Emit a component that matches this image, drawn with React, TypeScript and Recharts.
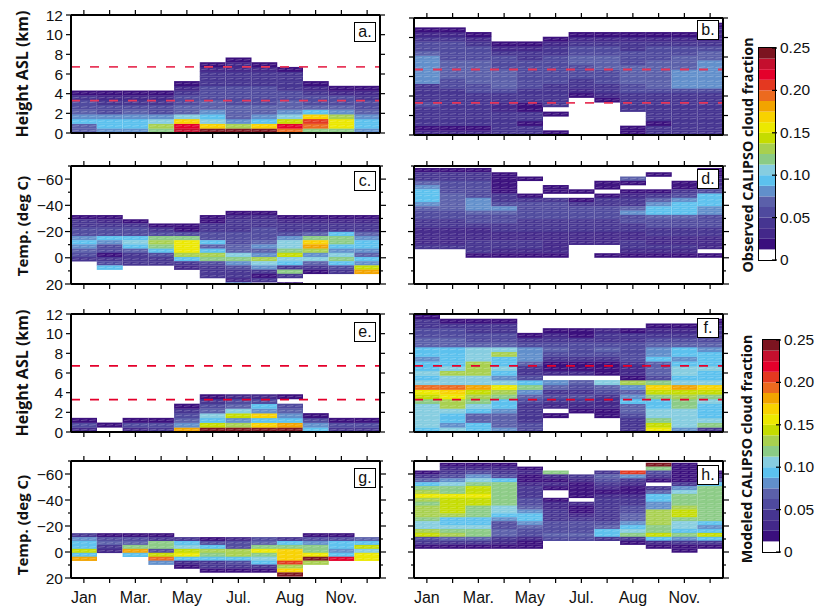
import { Bar, BarChart, ReferenceLine, XAxis, YAxis } from "recharts"

// cloud fraction is stored as colour bar class, one class = 0.0125
const bandStep = 0.0125
const bandColors = [
	"#ffffff", "#3a0f7d", "#43288a", "#463591", "#4f4a9e", "#5b60aa", "#618fcb", "#5cc1ee", "#86cde0", "#8bcb85",
	"#a8d04f", "#c5dc00", "#ece800", "#f8d200", "#f2a400", "#ec6a1f", "#e43820", "#e4002b", "#c40f2e", "#7c1420"
]
const monthLabels = ["Jan", "", "Mar.", "", "May", "", "Jul.", "", "Aug", "", "Nov.", ""]
const heightTicks = [0, 2, 4, 6, 8, 10, 12]
const tempTicks = [-70, -60, -50, -40, -30, -20, -10, 0, 10, 20]
const tempLabelled = [-60, -40, -20, 0, 20]
const barTicks = [0, 0.05, 0.1, 0.15, 0.2, 0.25]
const layerHeights = [6.72, 3.3]

// height panels: each month listed from the ground up, rows of 0.48 km
const panelA = [
	[5, 5, 7, 6, 5, 4, 4, 3, 1],
	[6, 7, 7, 6, 4, 4, 3, 2, 1],
	[6, 7, 7, 6, 5, 4, 3, 2, 1],
	[9, 10, 8, 6, 4, 4, 3, 2, 1],
	[18, 17, 13, 8, 5, 5, 4, 4, 3, 2, 1],
	[19, 13, 8, 7, 6, 5, 5, 4, 4, 4, 3, 3, 3, 2, 1],
	[19, 10, 6, 5, 5, 5, 4, 4, 4, 4, 3, 3, 3, 2, 2, 1],
	[19, 13, 7, 6, 5, 5, 4, 4, 4, 4, 3, 3, 3, 2, 1],
	[15, 17, 11, 8, 6, 5, 5, 4, 4, 3, 3, 3, 3, 1],
	[9, 15, 16, 13, 7, 5, 4, 4, 3, 2, 1],
	[9, 12, 12, 10, 6, 5, 4, 4, 2, 1],
	[6, 7, 7, 6, 5, 4, 4, 3, 2, 1]
]
const panelB = [
	[2, 1, 3, 3, 3, 3, 4, 3, 3, 3, 3, 6, 6, 6, 6, 6, 6, 5, 4, 4, 3, 2, 1],
	[2, 1, 3, 3, 3, 3, 3, 3, 3, 3, 4, 4, 5, 5, 5, 5, 4, 4, 4, 4, 3, 2, 1],
	[2, 1, 3, 3, 3, 3, 3, 3, 3, 4, 4, 5, 5, 5, 5, 5, 4, 4, 4, 3, 2, 1],
	[3, 3, 3, 3, 3, 2, 2, 3, 3, 4, 5, 5, 5, 5, 4, 4, 4, 3, 2, 1],
	[3, 3, 1, 3, 3, 1, 1, 3, 3, 3, 4, 4, 4, 4, 4, 4, 3, 3, 2, 1],
	[1, 0, 0, 0, 1, 0, 3, 3, 3, 3, 3, 4, 4, 4, 4, 4, 4, 3, 3, 2, 1],
	[0, 0, 0, 0, 0, 0, 0, 0, 1, 2, 3, 3, 4, 4, 4, 5, 5, 4, 4, 3, 2, 1],
	[0, 0, 0, 0, 0, 0, 0, 1, 2, 3, 3, 4, 4, 4, 5, 5, 5, 4, 4, 3, 2, 1],
	[1, 1, 0, 0, 0, 3, 3, 3, 3, 4, 4, 5, 5, 5, 5, 4, 4, 4, 3, 3, 2, 1],
	[3, 3, 1, 3, 3, 3, 3, 3, 3, 4, 5, 5, 5, 5, 5, 5, 4, 4, 4, 3, 2, 1],
	[3, 3, 3, 3, 3, 3, 3, 3, 3, 4, 6, 6, 6, 6, 5, 5, 5, 4, 4, 3, 2, 1],
	[3, 3, 3, 3, 3, 3, 3, 3, 3, 4, 6, 6, 6, 6, 6, 6, 5, 5, 4, 3, 2, 2, 2, 1]
]
const panelE = [
	[2, 4, 1],
	[0, 1],
	[2, 4, 1],
	[3, 4, 1],
	[14, 6, 5, 4, 3, 1],
	[19, 11, 7, 8, 5, 4, 3, 1],
	[19, 10, 6, 11, 8, 5, 4, 2],
	[19, 13, 7, 13, 6, 7, 4, 2],
	[19, 14, 7, 6, 5, 4, 0, 1],
	[7, 6, 4, 1],
	[3, 4, 1],
	[3, 4, 1]
]
const panelF = [
	[7, 8, 8, 8, 8, 8, 9, 11, 12, 15, 8, 7, 8, 7, 7, 6, 7, 7, 5, 5, 4, 4, 3, 3, 1],
	[8, 6, 7, 7, 8, 10, 10, 12, 13, 15, 8, 8, 10, 8, 7, 7, 7, 7, 5, 5, 4, 4, 3, 1],
	[7, 7, 5, 5, 7, 8, 9, 10, 11, 14, 8, 8, 10, 10, 10, 8, 8, 8, 5, 4, 4, 3, 3, 1],
	[6, 5, 5, 5, 6, 7, 7, 9, 10, 12, 8, 6, 7, 8, 7, 7, 10, 8, 5, 4, 4, 3, 3, 1],
	[4, 4, 3, 3, 3, 3, 4, 5, 6, 9, 7, 4, 3, 3, 5, 6, 6, 6, 4, 3, 1],
	[0, 0, 0, 1, 0, 2, 3, 4, 3, 5, 6, 0, 2, 1, 1, 3, 4, 5, 4, 3, 2, 1],
	[0, 0, 0, 0, 1, 2, 3, 4, 3, 4, 5, 0, 2, 1, 1, 3, 4, 4, 4, 3, 1, 1],
	[0, 0, 0, 1, 1, 2, 2, 3, 4, 5, 8, 0, 1, 1, 1, 3, 4, 5, 4, 3, 3, 2],
	[3, 3, 3, 4, 5, 5, 7, 6, 5, 6, 10, 1, 2, 2, 3, 4, 4, 4, 4, 3, 3, 1],
	[12, 11, 9, 8, 8, 7, 7, 9, 11, 13, 9, 4, 5, 5, 5, 7, 6, 6, 5, 4, 3, 2, 1],
	[6, 8, 8, 8, 8, 9, 9, 10, 11, 14, 8, 7, 8, 8, 7, 6, 7, 7, 5, 4, 3, 2, 1],
	[3, 9, 8, 7, 7, 7, 8, 9, 11, 13, 8, 7, 7, 8, 7, 7, 7, 6, 5, 4, 3, 3, 2, 1]
]

// temperature panels: each month listed from the cold end down
const panelC = [
	[0, 0, 0, 0, 0, 0, 0, 0, 0, 0, 0, 1, 3, 3, 4, 4, 6, 7, 6, 5, 4, 3],
	[0, 0, 0, 0, 0, 0, 0, 0, 0, 0, 0, 1, 2, 3, 4, 4, 7, 6, 4, 4, 1, 3, 4, 7],
	[0, 0, 0, 0, 0, 0, 0, 0, 0, 0, 0, 0, 1, 3, 4, 4, 7, 8, 7, 5, 3, 3, 3],
	[0, 0, 0, 0, 0, 0, 0, 0, 0, 0, 0, 0, 0, 1, 3, 4, 9, 10, 9, 7, 4, 3, 3],
	[0, 0, 0, 0, 0, 0, 0, 0, 0, 0, 0, 0, 0, 1, 1, 4, 9, 12, 12, 12, 10, 7, 3, 2],
	[0, 0, 0, 0, 0, 0, 0, 0, 0, 0, 0, 1, 1, 3, 3, 4, 4, 7, 5, 7, 10, 9, 4, 3, 3, 3],
	[0, 0, 0, 0, 0, 0, 0, 0, 0, 0, 1, 2, 3, 3, 3, 4, 4, 4, 5, 5, 8, 9, 6, 4, 3, 3, 2, 6],
	[0, 0, 0, 0, 0, 0, 0, 0, 0, 0, 1, 2, 3, 3, 4, 4, 4, 5, 6, 5, 6, 10, 8, 6, 3, 1, 3],
	[0, 0, 0, 0, 0, 0, 0, 0, 0, 0, 0, 1, 2, 3, 3, 4, 6, 8, 8, 9, 11, 8, 7, 3, 9, 3, 0, 1],
	[0, 0, 0, 0, 0, 0, 0, 0, 0, 0, 0, 1, 2, 3, 3, 5, 9, 13, 14, 10, 6, 8, 5, 3, 1],
	[0, 0, 0, 0, 0, 0, 0, 0, 0, 0, 0, 1, 2, 3, 3, 7, 9, 9, 7, 6, 8, 9, 7, 4, 3],
	[0, 0, 0, 0, 0, 0, 0, 0, 0, 0, 0, 1, 2, 3, 3, 5, 6, 7, 7, 6, 5, 7, 6, 11, 14]
]
const panelD = [
	[1, 3, 3, 5, 6, 7, 7, 7, 6, 5, 4, 4, 3, 3, 2, 2, 2, 2, 3],
	[1, 3, 3, 4, 4, 4, 5, 5, 5, 5, 4, 4, 3, 3, 2, 2, 2, 2, 3],
	[1, 3, 3, 4, 4, 4, 4, 6, 6, 6, 5, 4, 4, 3, 2, 2, 2, 3, 3, 3, 1],
	[0, 1, 1, 1, 1, 1, 3, 3, 4, 6, 5, 4, 4, 3, 3, 2, 2, 3, 3, 2, 1],
	[0, 0, 1, 0, 0, 0, 1, 3, 4, 4, 4, 4, 3, 3, 3, 2, 2, 3, 3, 2, 1],
	[0, 0, 0, 0, 1, 1, 0, 3, 4, 4, 4, 4, 3, 3, 3, 2, 2, 2, 2, 2, 1],
	[0, 0, 0, 0, 0, 1, 0, 1, 3, 4, 4, 4, 3, 3, 3, 2, 2, 2],
	[0, 0, 0, 1, 1, 0, 1, 3, 3, 4, 4, 4, 3, 3, 3, 2, 2, 2, 0, 0, 1],
	[0, 0, 5, 1, 0, 1, 2, 3, 3, 5, 6, 4, 4, 3, 3, 2, 2, 3, 3, 2, 1],
	[0, 1, 0, 0, 0, 1, 3, 5, 6, 7, 7, 5, 4, 4, 3, 3, 2, 2, 3, 2, 1],
	[0, 0, 0, 1, 1, 3, 4, 6, 7, 7, 7, 5, 4, 4, 3, 3, 2, 2, 3, 2, 1],
	[1, 1, 2, 2, 3, 4, 7, 7, 7, 6, 6, 4, 4, 4, 3, 3, 2, 2, 2, 0, 1]
]
const panelG = [
	[3, 6, 7, 7, 11, 7, 14],
	[1, 4, 5, 3, 2],
	[1, 4, 5, 9, 14, 7],
	[1, 3, 9, 9, 4, 11, 15, 6],
	[0, 3, 7, 8, 11, 12, 7, 2, 1],
	[0, 1, 4, 7, 10, 9, 7, 3, 3, 1],
	[0, 2, 4, 4, 10, 10, 7, 4, 3, 1],
	[0, 4, 5, 9, 12, 9, 8, 7, 3, 1],
	[0, 3, 7, 9, 13, 13, 13, 16, 10, 13, 19],
	[1, 4, 6, 9, 9, 12, 19, 10],
	[1, 4, 7, 7, 6, 7, 17],
	[0, 5, 7, 11, 8, 12, 12]
]
const panelH = [
	[0, 0, 1, 3, 5, 7, 9, 10, 12, 10, 9, 10, 10, 10, 9, 8, 8, 10, 11, 4, 3, 1],
	[1, 2, 3, 4, 6, 8, 9, 9, 12, 11, 11, 11, 11, 10, 7, 7, 8, 9, 10, 5, 3, 1],
	[1, 2, 4, 6, 8, 9, 11, 11, 12, 11, 11, 9, 9, 9, 7, 7, 8, 9, 9, 5, 3, 1],
	[1, 2, 3, 4, 7, 9, 9, 9, 9, 9, 9, 8, 8, 7, 6, 4, 4, 5, 5, 3, 2, 1],
	[0, 1, 2, 1, 1, 2, 3, 3, 3, 4, 4, 5, 6, 7, 7, 6, 5, 4, 4, 2, 1, 1],
	[0, 0, 9, 2, 1, 2, 1, 0, 0, 1, 2, 2, 3, 3, 3, 4, 4, 4, 5, 4],
	[0, 0, 0, 3, 2, 1, 1, 1, 1, 0, 2, 1, 1, 2, 3, 4, 4, 4, 5, 4],
	[0, 0, 3, 5, 4, 3, 2, 1, 2, 3, 3, 3, 3, 3, 3, 4, 5, 7, 7, 3],
	[0, 0, 16, 6, 3, 2, 1, 1, 2, 3, 3, 4, 4, 5, 5, 6, 7, 8, 9, 3, 1],
	[19, 9, 4, 3, 1, 0, 3, 5, 7, 7, 6, 6, 10, 10, 10, 10, 9, 9, 11, 7, 2, 1],
	[1, 1, 1, 1, 1, 3, 6, 8, 9, 9, 9, 10, 11, 11, 9, 8, 8, 7, 9, 6, 3, 1, 1],
	[0, 0, 1, 2, 5, 7, 9, 9, 9, 9, 9, 9, 9, 9, 9, 7, 6, 7, 11, 7, 3, 1]
]

const observedBar = bandColors.map((_, i) => i)
const fontSans = "'Liberation Sans', Arial, sans-serif"
const fontTitle = "'Open Sans', 'Noto Sans', sans-serif"

const buildRows = (levels: number[][], start: number, bin: number) => {
	const count = Math.max(...levels.map(m => m.length))
	return levels.map((month, i) => {
		const row: Record<string, number> = { month: i, base: start }
		for (let r = 0; r < count; r++) {
			row[`r${r}`] = bin
			row[`l${r}`] = month[r] ?? 0
		}
		return row
	})
}

const HeatCell = (props: any) => {
	const { x, y, width, height, level } = props
	if (!level) return null
	const top = Math.min(y, y + height)
	const h = Math.abs(height)
	const mid = top + h / 2
	return (
		<g>
			<rect x={x} y={top} width={width} height={h + 0.3} fill={bandColors[level]} />
			<line x1={x} y1={top} x2={x} y2={top + h} stroke="#fff" strokeOpacity={0.28} strokeWidth={0.8} />
			<line x1={x} y1={top} x2={x + width} y2={top} stroke="#fff" strokeOpacity={0.1} strokeWidth={0.6} />
			{[0.06, 0.38, 0.7].map(f => (
				<line
					key={f}
					x1={x + width * f}
					y1={mid + 0.4}
					x2={x + width * f + 6.5}
					y2={mid - 0.4}
					stroke="#fff"
					strokeOpacity={0.3}
					strokeWidth={0.8}
				/>
			))}
		</g>
	)
}

const YTick = (props: any) => {
	const { x, y, payload, side, temp, showLabel } = props
	const v = payload.value
	const major = !temp || tempLabelled.includes(v)
	const len = major ? (temp ? 6 : 5) : 3
	const dir = side === "left" ? -1 : 1
	const text = temp ? (v < 0 ? `\u2212${-v}` : `${v}`) : `${v}`
	return (
		<g>
			<line x1={x} y1={y} x2={x + dir * len} y2={y} stroke="#000" strokeWidth={1.2} />
			{showLabel && major && (
				<text x={x - 8} y={y + 5.5} textAnchor="end" fontSize={15.5} fontFamily={fontSans} fill="#111">
					{text}
				</text>
			)}
		</g>
	)
}

const Panel = (props: any) => {
	const { levels, start, bin, temp, left, top, width, height, showY, showX, lineColor } = props
	const rows = buildRows(levels, start, bin)
	const count = Math.max(...levels.map((m: number[]) => m.length))
	const domain = temp ? [-70, 20] : [0, 12]
	const ticks = temp ? tempTicks : heightTicks
	const bottomSpace = showX ? 32 : 8
	return (
		<div style={{ position: "absolute", left: left - 50, top: top - 8 }}>
			<BarChart
				width={width + 58}
				height={height + 8 + bottomSpace}
				data={rows}
				margin={{ top: 0, right: 0, bottom: 0, left: 0 }}
				barCategoryGap={0}
				barGap={0}
			>
				<XAxis
					dataKey="month"
					height={bottomSpace}
					interval={0}
					stroke="#000"
					axisLine={{ stroke: "#000", strokeWidth: 2 }}
					tickLine={{ stroke: "#000", strokeWidth: 1.2 }}
					tickSize={5}
					tickMargin={9}
					tick={{ fontSize: 16, fontFamily: fontSans, fill: "#111" }}
					tickFormatter={(i: number) => (showX ? monthLabels[i] : "")}
				/>
				<XAxis
					xAxisId="top"
					orientation="top"
					dataKey="month"
					height={8}
					interval={0}
					axisLine={{ stroke: "#000", strokeWidth: 2 }}
					tickLine={{ stroke: "#000", strokeWidth: 1.2 }}
					tickSize={5}
					tickFormatter={() => ""}
				/>
				<YAxis
					type="number"
					width={50}
					domain={domain}
					reversed={temp}
					ticks={ticks}
					interval={0}
					allowDataOverflow
					axisLine={{ stroke: "#000", strokeWidth: 2 }}
					tickLine={false}
					tickSize={0}
					tickMargin={0}
					tick={(p: any) => <YTick {...p} side="left" temp={temp} showLabel={showY} />}
				/>
				<YAxis
					yAxisId="right"
					orientation="right"
					type="number"
					width={8}
					domain={domain}
					reversed={temp}
					ticks={ticks}
					interval={0}
					allowDataOverflow
					axisLine={{ stroke: "#000", strokeWidth: 2 }}
					tickLine={false}
					tickSize={0}
					tickMargin={0}
					tick={(p: any) => <YTick {...p} side="right" temp={temp} showLabel={false} />}
				/>
				<Bar dataKey="base" stackId="s" isAnimationActive={false} shape={() => null} />
				{Array.from({ length: count }, (_, r) => (
					<Bar
						key={r}
						dataKey={`r${r}`}
						stackId="s"
						isAnimationActive={false}
						shape={(p: any) => <HeatCell {...p} level={p.payload[`l${r}`]} />}
					/>
				))}
				{!temp &&
					layerHeights.map(h => (
						<ReferenceLine key={h} y={h} stroke={lineColor} strokeWidth={1.8} strokeDasharray="9 10" />
					))}
			</BarChart>
		</div>
	)
}

const ColorBar = ({ left, top, height }: { left: number; top: number; height: number }) => {
	const row: Record<string, number | string> = { name: "fraction" }
	observedBar.forEach(i => {
		row[`b${i}`] = bandStep
	})
	return (
		<div style={{ position: "absolute", left, top: top - 10 }}>
			<BarChart
				width={56}
				height={height + 20}
				data={[row]}
				margin={{ top: 10, right: 0, bottom: 10, left: 0 }}
				barCategoryGap={0}
			>
				<XAxis dataKey="name" hide />
				<YAxis
					orientation="right"
					type="number"
					width={40}
					domain={[0, 0.25]}
					ticks={barTicks}
					interval={0}
					axisLine={false}
					tickLine={false}
					tickSize={0}
					tickMargin={0}
					tick={(p: any) => (
						<g>
							<line x1={p.x - 3} y1={p.y} x2={p.x + 2} y2={p.y} stroke="#000" strokeWidth={1.2} />
							<text x={p.x + 5} y={p.y + 5} fontSize={15.5} fontFamily={fontSans} fill="#111">
								{p.payload.value === 0 ? "0" : p.payload.value.toFixed(2)}
							</text>
						</g>
					)}
				/>
				{observedBar.map(i => (
					<Bar key={i} dataKey={`b${i}`} stackId="c" fill={bandColors[i]} isAnimationActive={false} />
				))}
			</BarChart>
			<div
				style={{
					position: "absolute",
					left: -1,
					top: 9,
					width: 16,
					height: height,
					border: "1.5px solid #000",
					pointerEvents: "none"
				}}
			/>
		</div>
	)
}

const titles = [
	{ text: "Height ASL (km)", x: 28, y: 74, size: 16 },
	{ text: "Temp. (deg C)", x: 28, y: 226, size: 15 },
	{ text: "Height ASL (km)", x: 28, y: 373, size: 16 },
	{ text: "Temp. (deg C)", x: 28, y: 525, size: 15 },
	{ text: "Observed CALIPSO cloud fraction", x: 753, y: 155, size: 14.3 },
	{ text: "Modeled CALIPSO cloud fraction", x: 752, y: 449, size: 14.3 }
]

const letters = [
	{ text: "a.", x: 354, y: 22, h: 18 },
	{ text: "b.", x: 697, y: 20, h: 18 },
	{ text: "c.", x: 354, y: 171, h: 18 },
	{ text: "d.", x: 697, y: 169, h: 18 },
	{ text: "e.", x: 354, y: 322, h: 18 },
	{ text: "f.", x: 697, y: 318, h: 18 },
	{ text: "g.", x: 354, y: 468, h: 18 },
	{ text: "h.", x: 697, y: 465, h: 18 }
]

export default function App() {
	return (
		<div style={{ position: "absolute", left: 0, top: 0, width: 815, height: 610, background: "#fff", overflow: "hidden" }}>
			<Panel levels={panelA} start={0} bin={0.48} left={71} top={15} width={309} height={118} showY lineColor="#e8375a" />
			<Panel levels={panelB} start={0} bin={0.48} left={414} top={18} width={309} height={117} lineColor="#e8375a" />
			<Panel levels={panelC} start={-67.8} bin={3.2} temp left={71} top={166} width={309} height={118} showY />
			<Panel levels={panelD} start={-68.5} bin={3.25} temp left={414} top={166} width={309} height={118} />
			<Panel levels={panelE} start={0} bin={0.48} left={71} top={314} width={309} height={118} showY lineColor="#e4002b" />
			<Panel levels={panelF} start={0} bin={0.48} left={414} top={314} width={309} height={118} lineColor="#e4002b" />
			<Panel levels={panelG} start={-14.5} bin={3.02} temp left={71} top={461} width={309} height={117} showY showX />
			<Panel levels={panelH} start={-68.7} bin={3} temp left={414} top={461} width={309} height={117} showX />
			<ColorBar left={759} top={48} height={212} />
			<ColorBar left={763} top={340} height={212} />
			<svg width={815} height={610} style={{ position: "absolute", left: 0, top: 0, pointerEvents: "none" }}>
				{titles.map(t => (
					<text
						key={t.text + t.y}
						transform={`translate(${t.x},${t.y}) rotate(-90)`}
						textAnchor="middle"
						fontSize={t.size}
						fontWeight={700}
						fontFamily={fontTitle}
						fill="#111"
					>
						{t.text}
					</text>
				))}
			</svg>
			{letters.map(l => (
				<div
					key={l.text}
					style={{
						position: "absolute",
						left: l.x,
						top: l.y,
						width: 20,
						height: l.h,
						lineHeight: `${l.h - 1}px`,
						border: "1.5px solid #000",
						background: "#fff",
						fontFamily: fontSans,
						fontSize: 16,
						textAlign: "center",
						color: "#111"
					}}
				>
					{l.text}
				</div>
			))}
		</div>
	)
}
